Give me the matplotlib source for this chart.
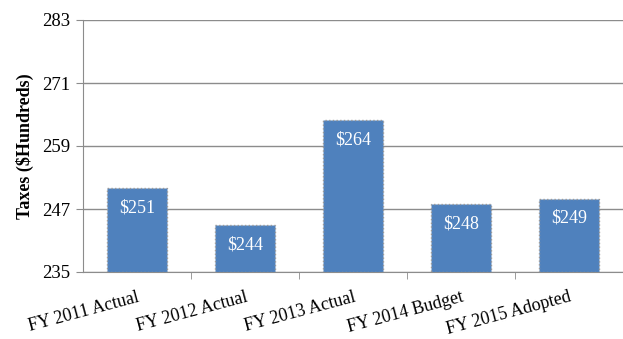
import numpy as np
import matplotlib.pyplot as plt

categories = ['FY 2011 Actual', 'FY 2012 Actual', 'FY 2013 Actual',
              'FY 2014 Budget', 'FY 2015 Adopted']
taxes = [251, 244, 264, 248, 249]
yticks = [235, 247, 259, 271, 283]

plt.rcParams['font.family'] = 'Liberation Serif'

fig = plt.figure(figsize=(6.23, 3.39), dpi=100)
ax = fig.add_axes([83/623, 1 - 272/339, 540/623, 252/339])

x = np.arange(len(categories))
ax.bar(x, [t - 235 for t in taxes], bottom=235, width=0.55,
       color='#4f81bd', edgecolor='#9a9a9a', linewidth=1.0,
       linestyle=':', zorder=3)

# value labels just inside the top of each bar
for xi, t in zip(x, taxes):
    ax.annotate(f'${t}', xy=(xi, t), xytext=(0, -14.4), textcoords='offset points',
                ha='center', va='center', color='white', fontsize=13, zorder=4)

ax.set_xlim(-0.5, len(categories) - 0.5)
ax.set_ylim(235, 283)
ax.set_yticks(yticks)
ax.yaxis.grid(True, color='#8c8c8c', linewidth=1.0, zorder=0)
ax.set_axisbelow(True)

ax.set_xticks(x)
ax.set_xticklabels(categories, rotation=15, ha='right', va='top',
                   rotation_mode='anchor', fontsize=13)
ax.tick_params(axis='x', length=0, pad=12)
ax.set_xticks(np.arange(0.5, len(categories) - 0.5), minor=True)
ax.tick_params(axis='x', which='minor', length=5, color='#8c8c8c', direction='out')
ax.tick_params(axis='y', length=5, color='#8c8c8c', labelsize=13.5, pad=4)

for s in ['top', 'right']:
    ax.spines[s].set_visible(False)
ax.spines['left'].set_color('#8c8c8c')
ax.spines['bottom'].set_color('#8c8c8c')

ax.set_ylabel('Taxes ($Hundreds)', fontsize=13, fontweight='bold', labelpad=6)

fig.savefig('out.png', dpi=100)
